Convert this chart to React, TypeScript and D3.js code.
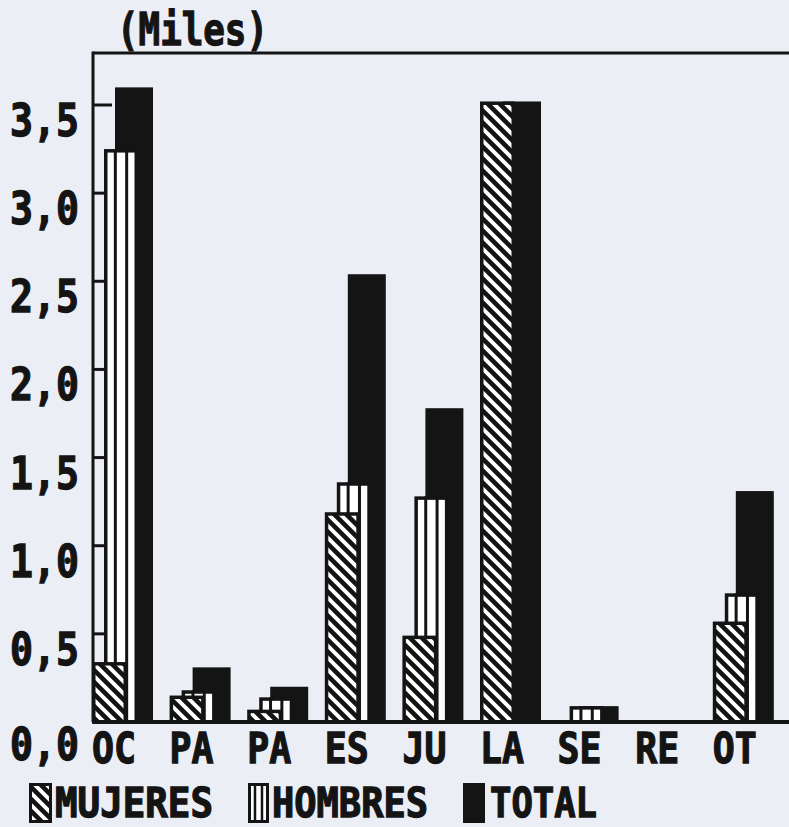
import React from "react";
import * as d3 from "d3";

const categories = ["OC", "PA", "PA", "ES", "JU", "LA", "SE", "RE", "OT"];
const mujeres = [0.34, 0.15, 0.07, 1.19, 0.49, 3.52, 0.0, 0.0, 0.57];
const hombres = [3.25, 0.18, 0.14, 1.36, 1.28, 0.0, 0.09, 0.0, 0.73];
const total = [3.6, 0.31, 0.2, 2.54, 1.78, 3.52, 0.09, 0.0, 1.31];
const yTicks = [0, 0.5, 1.0, 1.5, 2.0, 2.5, 3.0, 3.5];
const tickLabels = ["0,0", "0,5", "1,0", "1,5", "2,0", "2,5", "3,0", "3,5"];
const legendLabels = ["MUJERES", "HOMBRES", "TOTAL"];
const title = "(Miles)";

const W = 789;
const H = 827;
const INK = "#141414";
const BG = "#eceef6";
const FONT = "'DejaVu Sans Mono', monospace";

export default function App() {
  const left = 93;
  const top = 53;
  const base = 722;
  const y = d3.scaleLinear().domain([0, 3.5]).range([base, 105]);
  const x = d3
    .scaleBand<number>()
    .domain(d3.range(categories.length))
    .range([92, 92 + 77.6 * categories.length])
    .padding(0);

  const wM = 35;
  const wH = 34;
  const wT = 38;
  const offH = 12;
  const offT = 23;
  const sw = 3.5;

  const hombresBar = (x0: number, w: number, v: number, key: string) => {
    if (v <= 0) return null;
    const yt = y(v);
    const h = base - yt;
    return (
      <g key={key}>
        <rect x={x0 + sw / 2} y={yt + sw / 2} width={w - sw} height={Math.max(h - sw / 2, 0)} fill="#fff" stroke={INK} strokeWidth={sw} />
        <line x1={x0 + w / 3} x2={x0 + w / 3} y1={yt} y2={base} stroke={INK} strokeWidth={3} />
        <line x1={x0 + (2 * w) / 3} x2={x0 + (2 * w) / 3} y1={yt} y2={base} stroke={INK} strokeWidth={3} />
      </g>
    );
  };

  const mujeresBar = (x0: number, w: number, v: number, key: string) => {
    if (v <= 0) return null;
    const yt = y(v);
    const h = base - yt;
    return (
      <rect key={key} x={x0 + sw / 2} y={yt + sw / 2} width={w - sw} height={Math.max(h - sw / 2, 0)} fill="url(#hatch)" stroke={INK} strokeWidth={sw} />
    );
  };

  const textStyle = { stroke: INK, strokeWidth: 1.3, paintOrder: "stroke" as const };

  return (
    <svg
      width={W}
      height={H}
      style={{ position: "absolute", left: 0, top: 0, background: BG }}
      fontFamily={FONT}
      fontWeight="bold"
    >
      <defs>
        <pattern id="hatch" patternUnits="userSpaceOnUse" width={12} height={12}>
          <rect width={12} height={12} fill="#fff" />
          <path d="M-6,6 L6,18 M0,0 L12,12 M6,-6 L18,6" stroke={INK} strokeWidth={4.6} />
        </pattern>
      </defs>
      <rect x={0} y={0} width={W} height={H} fill={BG} />

      {/* title */}
      <text x={117} y={45} fontSize={44} fill={INK} textLength={151} lengthAdjust="spacingAndGlyphs" style={textStyle}>
        {title}
      </text>

      {/* frame */}
      <line x1={left} x2={W + 5} y1={top} y2={top} stroke={INK} strokeWidth={3} />
      <line x1={left} x2={left} y1={top - 1.5} y2={base} stroke={INK} strokeWidth={3} />

      {/* ticks */}
      {yTicks.map((t, i) => (
        <g key={"t" + i}>
          {t > 0 && <line x1={left} x2={left + 19} y1={y(t)} y2={y(t)} stroke={INK} strokeWidth={3} />}
          <text
            x={79}
            y={y(t) + (t === 0 ? 38 : 31)}
            fontSize={44}
            fill={INK}
            textAnchor="end"
            textLength={69}
            lengthAdjust="spacingAndGlyphs"
            style={textStyle}
          >
            {tickLabels[i]}
          </text>
        </g>
      ))}

      {/* bars: total (back), hombres, mujeres (front) */}
      {categories.map((c, i) => {
        const x0 = x(i) as number;
        return (
          <g key={"g" + i}>
            {total[i] > 0 && (
              <rect x={x0 + offT} y={y(total[i])} width={wT} height={base - y(total[i])} fill={INK} />
            )}
            {hombresBar(x0 + offH, wH, hombres[i], "h" + i)}
            {mujeresBar(x0, wM, mujeres[i], "m" + i)}
          </g>
        );
      })}

      {/* baseline */}
      <line x1={left} x2={W + 5} y1={base} y2={base} stroke={INK} strokeWidth={4} />

      {/* category labels */}
      {categories.map((c, i) => (
        <text
          key={"c" + i}
          x={x(i) as number}
          y={763}
          fontSize={43}
          fill={INK}
          textLength={44}
          lengthAdjust="spacingAndGlyphs"
          style={textStyle}
        >
          {c}
        </text>
      ))}

      {/* legend */}
      <g>
        <rect x={29 + 1.5} y={783 + 1.5} width={23 - 3} height={40 - 3} fill="url(#hatch)" stroke={INK} strokeWidth={3} />
        <text x={55} y={817} fontSize={40} fill={INK} textLength={158} lengthAdjust="spacingAndGlyphs" style={textStyle}>
          {legendLabels[0]}
        </text>
        <rect x={248 + 1.5} y={783 + 1.5} width={21 - 3} height={40 - 3} fill="#fff" stroke={INK} strokeWidth={3} />
        <line x1={255} x2={255} y1={783} y2={823} stroke={INK} strokeWidth={2.5} />
        <line x1={262} x2={262} y1={783} y2={823} stroke={INK} strokeWidth={2.5} />
        <text x={272} y={817} fontSize={40} fill={INK} textLength={156} lengthAdjust="spacingAndGlyphs" style={textStyle}>
          {legendLabels[1]}
        </text>
        <rect x={463} y={783} width={22} height={40} fill={INK} />
        <text x={490} y={817} fontSize={40} fill={INK} textLength={107} lengthAdjust="spacingAndGlyphs" style={textStyle}>
          {legendLabels[2]}
        </text>
      </g>
    </svg>
  );
}
